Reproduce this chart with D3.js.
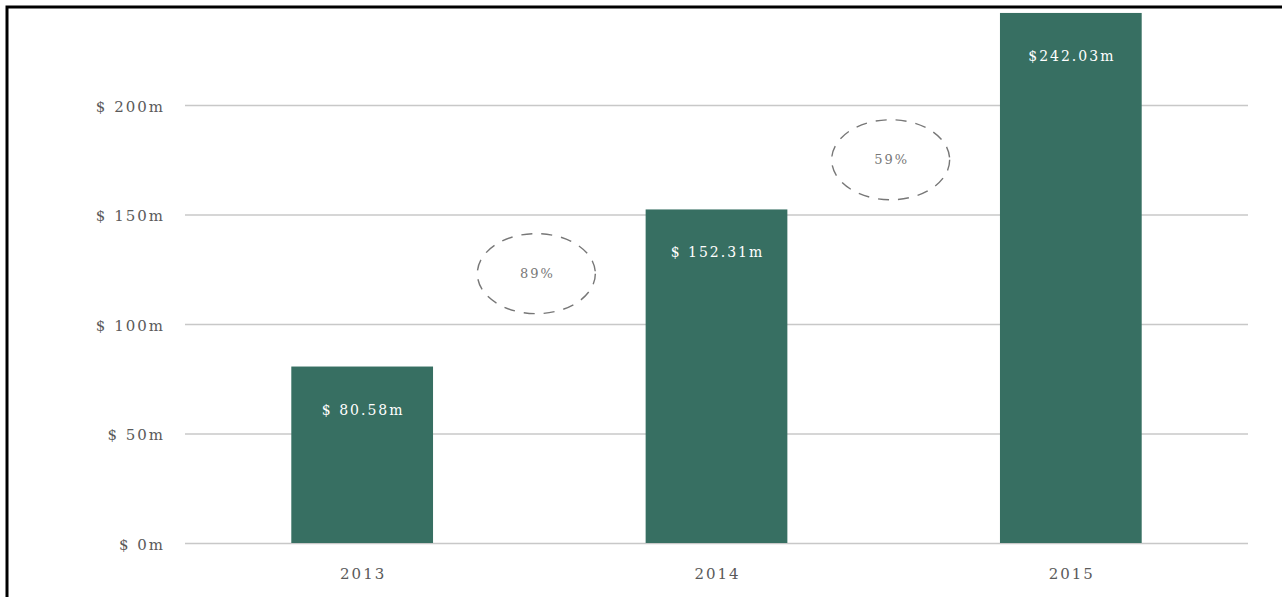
<!DOCTYPE html>
<html><head><meta charset="utf-8">
<script src="https://cdn.jsdelivr.net/npm/d3@7"></script>
<style>
html,body{margin:0;padding:0;background:#fff;}
svg{display:block;}
</style></head>
<body>
<svg id="chart" width="1282" height="597"></svg>
<script>
const years = ["2013", "2014", "2015"];
const revenue = [80.58, 152.31, 242.03];
const barLabels = ["$ 80.58m", "$ 152.31m", "$242.03m"];
const yTicks = [0, 50, 100, 150, 200];
const growthLabels = ["89%", "59%"];
const growthLevel = [123, 175]; // vertical anchor of the growth bubbles, in $m

const svg = d3.select("#chart");
const W = 1282, H = 597;
const font = "'DejaVu Serif', 'Liberation Serif', serif";

// frame
svg.append("rect").attr("x", 7).attr("y", 7).attr("width", W + 20).attr("height", H + 20)
  .attr("fill", "none").attr("stroke", "#000").attr("stroke-width", 3);

const x = d3.scaleBand().domain(years).range([185, 1248]).paddingInner(0.6).paddingOuter(0.3);
const y = d3.scaleLinear().domain([0, 200]).range([543, 105]);

// gridlines + y labels
const yAxis = d3.axisLeft(y).tickValues(yTicks).tickSize(-(1248 - 185)).tickPadding(20)
  .tickFormat(d => "$ " + d + "m");
const gy = svg.append("g").attr("transform", "translate(185,0)").call(yAxis);
gy.select(".domain").remove();
gy.selectAll(".tick line").attr("stroke", "#c8c8c8").attr("stroke-width", 1.3);
gy.selectAll(".tick text").attr("fill", "#5a5a5a").attr("dy", "0.4em")
  .style("font-family", font).style("font-size", "15px").style("letter-spacing", "2px");

// x axis labels
const xAxis = d3.axisBottom(x).tickSize(0).tickPadding(25);
const gx = svg.append("g").attr("transform", "translate(0,543)").call(xAxis);
gx.select(".domain").remove();
gx.selectAll(".tick text").attr("fill", "#5a5a5a").attr("dx", "1")
  .style("font-family", font).style("font-size", "15px").style("letter-spacing", "2px");

// bars
svg.selectAll("rect.bar").data(years).join("rect").attr("class", "bar")
  .attr("x", d => x(d)).attr("width", x.bandwidth())
  .attr("y", (d, i) => y(revenue[i])).attr("height", (d, i) => y(0) - y(revenue[i]))
  .attr("fill", "#376f62");

svg.selectAll("text.barlab").data(years).join("text").attr("class", "barlab")
  .attr("x", d => x(d) + x.bandwidth() / 2 + 1).attr("y", (d, i) => y(revenue[i]) + 48)
  .attr("text-anchor", "middle").attr("fill", "#fff")
  .style("font-family", font).style("font-size", "14px").style("letter-spacing", "2px")
  .text((d, i) => barLabels[i]);

// growth bubbles
const gData = growthLabels.map((l, i) => ({
  label: l,
  cx: (x(years[i]) + x.bandwidth() + x(years[i + 1])) / 2 - 3,
  cy: y(growthLevel[i])
}));
svg.selectAll("ellipse.growth").data(gData).join("ellipse").attr("class", "growth")
  .attr("cx", d => d.cx).attr("cy", d => d.cy).attr("rx", 59).attr("ry", 40)
  .attr("fill", "none").attr("stroke", "#777").attr("stroke-width", 1.4)
  .attr("stroke-dasharray", "11,9");
svg.selectAll("text.growth").data(gData).join("text").attr("class", "growth")
  .attr("x", d => d.cx + 1).attr("y", d => d.cy + 4).attr("text-anchor", "middle")
  .attr("fill", "#777").style("font-family", font).style("font-size", "13px")
  .style("letter-spacing", "2px")
  .text(d => d.label);
</script>
</body></html>
